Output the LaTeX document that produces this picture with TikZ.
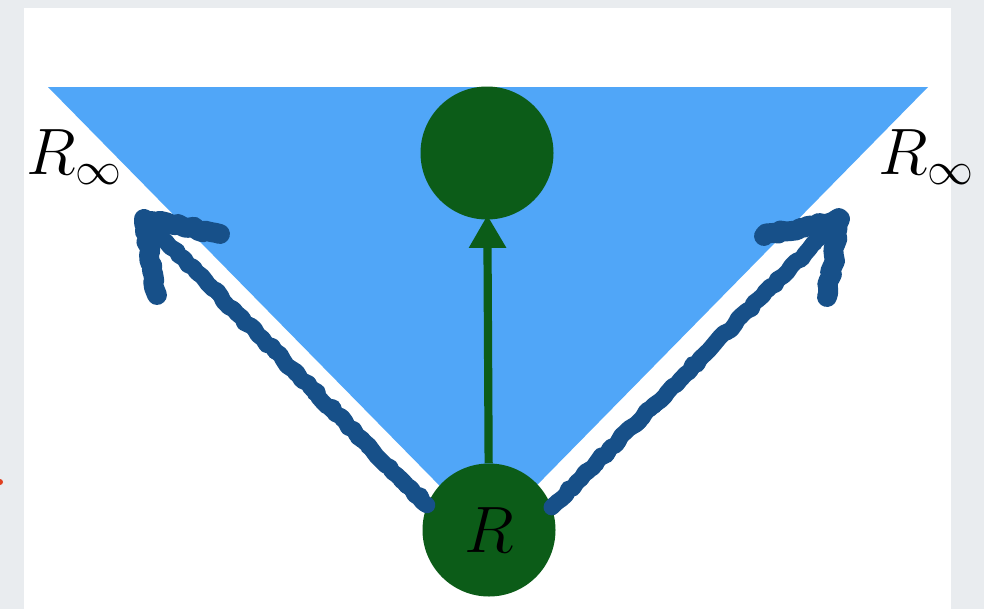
\RequirePackage{fix-cm}
\documentclass[tikz,border=0pt]{standalone}
\usetikzlibrary{arrows.meta,decorations.pathmorphing,calc}
\definecolor{pagegray}{HTML}{E9ECEF}
\definecolor{triblue}{HTML}{50A6F8}
\definecolor{dgreen}{HTML}{0C5C18}
\definecolor{sketchblue}{HTML}{175089}
\definecolor{redmark}{HTML}{E04020}
\tikzset{
  ball/.style={circle, fill=dgreen, minimum size=133*0.03cm, inner sep=0pt},
  biglabel/.style={font=\fontsize{56}{62}\selectfont, inner sep=0pt},
  sketch/.style={draw=sketchblue, line width=14pt, line cap=round, line join=round,
    decorate, decoration={random steps, segment length=5pt, amplitude=1.5pt}},
  sketchthin/.style={draw=sketchblue, line width=8pt, line cap=round, line join=round,
    decorate, decoration={random steps, segment length=3pt, amplitude=2.2pt}},
  sketchbarb/.style={draw=sketchblue, line width=17pt, line cap=round, line join=round,
    decorate, decoration={random steps, segment length=4pt, amplitude=1.8pt}},
}
\begin{document}
\begin{tikzpicture}[x=0.03cm, y=-0.03cm]
  \useasboundingbox (0,0) rectangle (984,609);
  \fill[pagegray] (0,0) rectangle (984,609);
  \fill[white] (24,8) rectangle (951,609);
  \fill[redmark] (0,482) circle (3);
  % triangle
  \fill[triblue] (48,87) -- (928,87) -- (488,535) -- cycle;
  % nodes
  \node[ball] (top) at (487,153) {};
  \node[ball] (bot) at (489,530) {};
  \node[biglabel] (rlab) at (bot) {$R$};
  \node[biglabel] (linf) at (74,157) {$R_\infty$};
  \node[biglabel] (rinf) at (926,157) {$R_\infty$};
  % green arrow
  \draw[dgreen, line width=7pt, -{Triangle[length=28pt, width=30pt]}, shorten >=-4pt] (bot) -- (top);
  % sketchy arrows
  \coordinate (tipL) at (144,219);
  \coordinate (barbL1) at (220,234);
  \coordinate (barbL2) at (157,295);
  \coordinate (tipR) at (840,219);
  \coordinate (barbR1) at (764,236);
  \coordinate (barbR2) at (827,297);
  \draw[sketch] (bot.158) -- (tipL);
  \draw[sketchthin] (bot.161) -- (tipL);
  \draw[sketchbarb] (barbL1) -- (tipL) -- (barbL2);
  \draw[sketch] (bot.20) -- (tipR);
  \draw[sketchthin] (bot.17) -- (tipR);
  \draw[sketchbarb] (barbR1) -- (tipR) -- (barbR2);
\end{tikzpicture}
\end{document}
